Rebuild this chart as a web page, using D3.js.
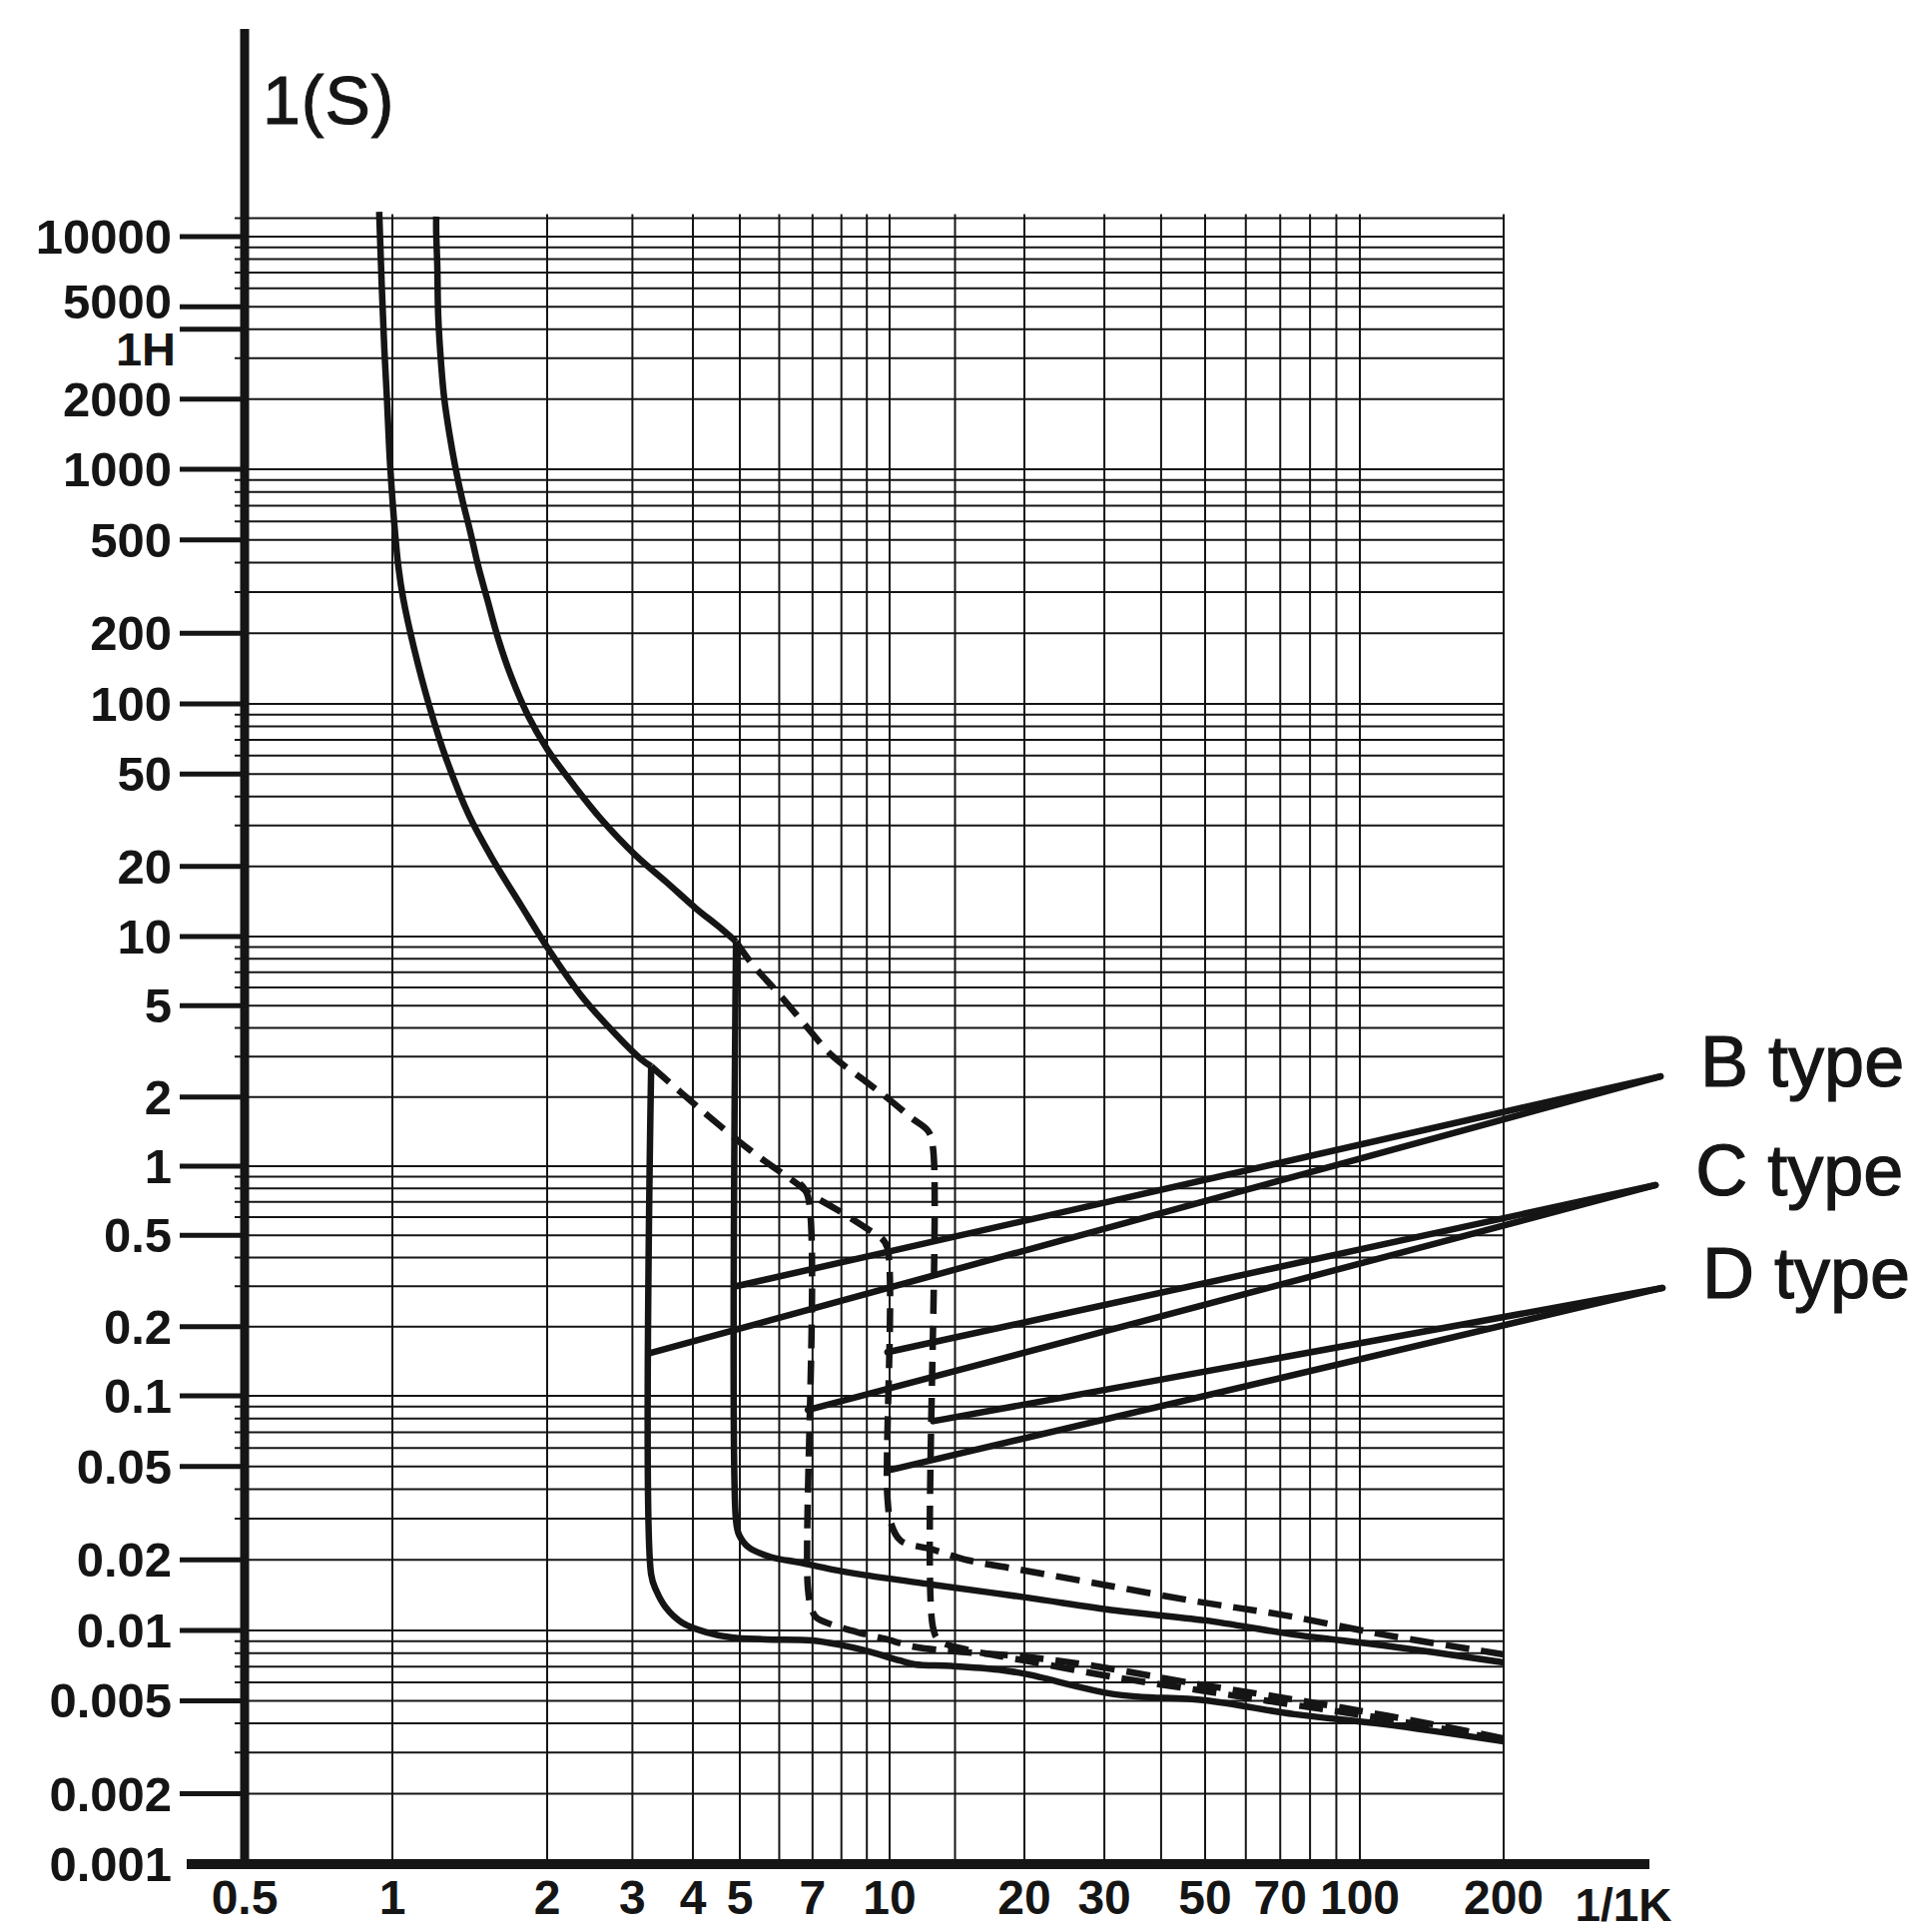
<!DOCTYPE html>
<html><head><meta charset="utf-8">
<script src="https://cdn.jsdelivr.net/npm/d3@7"></script>
<style>html,body{margin:0;padding:0;background:#fff;} svg{display:block;}</style>
</head><body>
<svg id="chart" width="1916" height="1935"></svg>
<script>
// ---------------- DATA ----------------
const xTickValues = [0.5, 1, 2, 3, 4, 5, 7, 10, 20, 30, 50, 70, 100, 200];
const xTickLabels = ["0.5", "1", "2", "3", "4", "5", "7", "10", "20", "30", "50", "70", "100", "200"];
const yTickValues = [10000, 5000, 4000, 2000, 1000, 500, 200, 100, 50, 20, 10, 5, 2, 1, 0.5, 0.2, 0.1, 0.05, 0.02, 0.01, 0.005, 0.002, 0.001];
const yTickLabels = ["10000", "5000", "1H", "2000", "1000", "500", "200", "100", "50", "20", "10", "5", "2", "1", "0.5", "0.2", "0.1", "0.05", "0.02", "0.01", "0.005", "0.002", "0.001"];
const xGridValues = [1, 2, 3, 4, 5, 6, 7, 8, 9, 10, 14, 20, 30, 40, 50, 60, 70, 80, 90, 100, 200];
const yGridTop = 12000;
const yAxisTitle = "1(S)";
const xAxisTitle = "1/1K";

// thermal (overload) curves
const thermalLeft = [[0.94,12800],[0.952,5925],[0.963,3275],[0.975,1997],[0.988,1103],[1.007,613],[1.027,386],[1.050,280],[1.103,171],[1.18,98],[1.273,58],[1.411,33],[1.565,21.6],[1.780,13.6],[2.028,8.6],[2.35,5.54],[2.735,3.86],[3.11,2.95],[3.28,2.72]];
const thermalRight = [[1.217,12200],[1.217,10400],[1.223,7430],[1.228,4540],[1.245,2770],[1.262,2000],[1.29,1436],[1.325,1030],[1.367,745],[1.418,540],[1.469,386],[1.529,280],[1.607,189],[1.702,131],[1.837,88.8],[2.0,64],[2.274,44.5],[2.585,32],[3.05,22.3],[3.52,17.2],[4.06,13.2],[4.53,11.0],[4.91,9.5]];
// instantaneous (magnetic) trip branches, solid
const tripLowSolid = [[3.28,2.72],[3.28,0.0173],[3.36,0.0148],[3.52,0.0125],[3.80,0.0108],[4.25,0.00985],[4.81,0.00933],[5.64,0.00916],[6.97,0.00906],[7.9,0.0087],[8.95,0.0082],[10.5,0.00745],[11.4,0.00716],[13.7,0.00705],[17.5,0.0068],[20.3,0.00649],[31.8,0.00532],[50,0.00502],[74.5,0.00438],[112,0.00397],[200,0.00335]];
const tripHighSolid = [[4.91,9.5],[4.91,0.0294],[4.98,0.0256],[5.21,0.0226],[5.8,0.0205],[6.57,0.0195],[7.65,0.0182],[8.95,0.0172],[12.4,0.0157],[20.3,0.0138],[31.8,0.01216],[50,0.01104],[74.5,0.0096],[112,0.00863],[200,0.0073]];
// dashed branches
const dashDiagLow = [[3.28,2.72],[4.12,1.79],[5.28,1.16],[6.57,0.827],[6.88,0.763],[7.9,0.64],[9.64,0.486]];
const dashDiagHigh = [[4.91,9.5],[5.28,7.64],[5.98,5.65],[6.78,4.1],[7.65,3.04],[8.95,2.34],[9.9,1.98],[11.2,1.62],[12.2,1.42],[12.5,1.2],[12.5,0.0103],[12.9,0.00906],[14.8,0.0083],[20.3,0.0074],[31.8,0.0063],[50,0.0055],[74.5,0.0048],[112,0.0042],[200,0.0034]];
const dashVertSeven = [[6.6,0.84],[6.85,0.74],[6.85,0.0152],[6.98,0.0122],[7.14,0.0113],[7.65,0.0106],[8.66,0.0098],[9.8,0.0092],[11.4,0.0085],[14.5,0.0081],[20.3,0.0077],[29.1,0.0070],[45.6,0.0060],[69,0.0052],[91,0.0047],[139,0.0040],[200,0.00345]];
const dashVertTen = [[9.64,0.486],[9.9,0.44],[9.9,0.0368],[10.1,0.0282],[10.6,0.0241],[12.4,0.0222],[15,0.0199],[19.4,0.0182],[29.7,0.0157],[47.8,0.0133],[71.5,0.0116],[112,0.0096],[172,0.0083],[200,0.0079]];
// label leaders
const typeNames = ["B type", "C type", "D type"];
const leaderEnds = [[426,2.46],[416,0.827],[430,0.295]];
const leaderStarts = [[[4.91,0.30],[3.28,0.154]], [[9.9,0.155],[6.85,0.087]], [[12.5,0.078],[9.9,0.048]]];

// ---------------- SCALES ----------------
const x = d3.scaleLog()
  .domain([0.5, 1, 2, 5, 10, 20, 50, 100, 200])
  .range([245, 393, 548, 741, 891, 1026, 1207, 1362, 1506]);
const y = d3.scaleLog()
  .domain([0.001, 0.01, 0.1, 1, 10, 100, 1000, 10000])
  .range([1867, 1633, 1398, 1168, 938, 705, 470, 237]);

const svg = d3.select("#chart");
const ink = "#151515";
const font = "'Liberation Sans', Arial, Helvetica, sans-serif";

// ---------------- GRID ----------------
const yGridValues = [];
for (let e = -3; e <= 3; e++) for (let m = 1; m <= 9; m++) yGridValues.push(m * Math.pow(10, e));
yGridValues.push(10000);
yGridValues.push(yGridTop);
const xMax = xGridValues[xGridValues.length - 1];
const gGrid = svg.append("g").attr("stroke", ink).attr("stroke-width", 2);
gGrid.selectAll("line.h").data(yGridValues.filter(v => v > 0.0011)).join("line")
  .attr("class", "h")
  .attr("x1", x(0.5) - 10).attr("x2", x(xMax) + 1)
  .attr("y1", d => y(d)).attr("y2", d => y(d));
gGrid.selectAll("line.v").data(xGridValues).join("line")
  .attr("class", "v")
  .attr("x1", d => x(d)).attr("x2", d => x(d))
  .attr("y1", y(yGridTop) - 4).attr("y2", y(0.001));

// ---------------- AXES ----------------
svg.append("line").attr("x1", x(0.5)).attr("x2", x(0.5))
  .attr("y1", 29).attr("y2", y(0.001) + 5)
  .attr("stroke", ink).attr("stroke-width", 9);
svg.append("line").attr("x1", 187).attr("x2", 1652)
  .attr("y1", y(0.001)).attr("y2", y(0.001))
  .attr("stroke", ink).attr("stroke-width", 10);

// y ticks
const labelShift = {"1H": 36, "5000": 12};
const gy = svg.append("g");
gy.selectAll("line").data(yTickValues.filter(v => v > 0.001)).join("line")
  .attr("x1", 180).attr("x2", x(0.5))
  .attr("y1", d => y(d)).attr("y2", d => y(d))
  .attr("stroke", ink).attr("stroke-width", 5);
gy.selectAll("text").data(yTickValues).join("text")
  .attr("x", (d, i) => yTickLabels[i] === "1H" ? 176 : 172)
  .attr("y", (d, i) => y(d) + (labelShift[yTickLabels[i]] ?? 17))
  .attr("text-anchor", "end")
  .attr("font-family", font).attr("font-weight", "bold")
  .attr("font-size", (d, i) => yTickLabels[i] === "1H" ? 47 : 49)
  .attr("fill", ink)
  .text((d, i) => yTickLabels[i]);

// x tick labels
svg.append("g").selectAll("text").data(xTickValues).join("text")
  .attr("x", d => x(d)).attr("y", 1917)
  .attr("text-anchor", "middle")
  .attr("font-family", font).attr("font-weight", "bold").attr("font-size", 48)
  .attr("fill", ink)
  .text((d, i) => xTickLabels[i]);

svg.append("text").attr("x", 1626).attr("y", 1924)
  .attr("text-anchor", "middle")
  .attr("font-family", font).attr("font-weight", "bold").attr("font-size", 46)
  .attr("fill", ink).text(xAxisTitle);

svg.append("text").attr("x", 263).attr("y", 124)
  .attr("font-family", font).attr("font-size", 68).attr("letter-spacing", 1)
  .attr("fill", ink).attr("stroke", ink).attr("stroke-width", 1)
  .text(yAxisTitle);

// ---------------- CURVES ----------------
const smooth = d3.line().x(d => x(d[0])).y(d => y(d[1])).curve(d3.curveCatmullRom.alpha(0.5));
const straight = d3.line().x(d => x(d[0])).y(d => y(d[1]));
const gc = svg.append("g").attr("fill", "none").attr("stroke", ink)
  .attr("stroke-width", 6.5).attr("stroke-linejoin", "round").attr("stroke-linecap", "butt");

[thermalLeft, thermalRight, tripLowSolid, tripHighSolid].forEach(s =>
  gc.append("path").attr("d", smooth(s)));
[dashDiagLow, dashDiagHigh, dashVertSeven, dashVertTen].forEach(s =>
  gc.append("path").attr("d", smooth(s)).attr("stroke-dasharray", "24,12"));

// leaders + labels
leaderStarts.forEach((pair, i) => {
  pair.forEach(p => gc.append("path").attr("d", straight([p, leaderEnds[i]])).attr("stroke-linecap", "round"));
  svg.append("text")
    .attr("x", x(leaderEnds[i][0]) + 40).attr("y", y(leaderEnds[i][1]) + 10)
    .attr("font-family", font).attr("font-size", 72)
    .attr("fill", ink).attr("stroke", ink).attr("stroke-width", 1.2)
    .text(typeNames[i]);
});
</script>
</body></html>
